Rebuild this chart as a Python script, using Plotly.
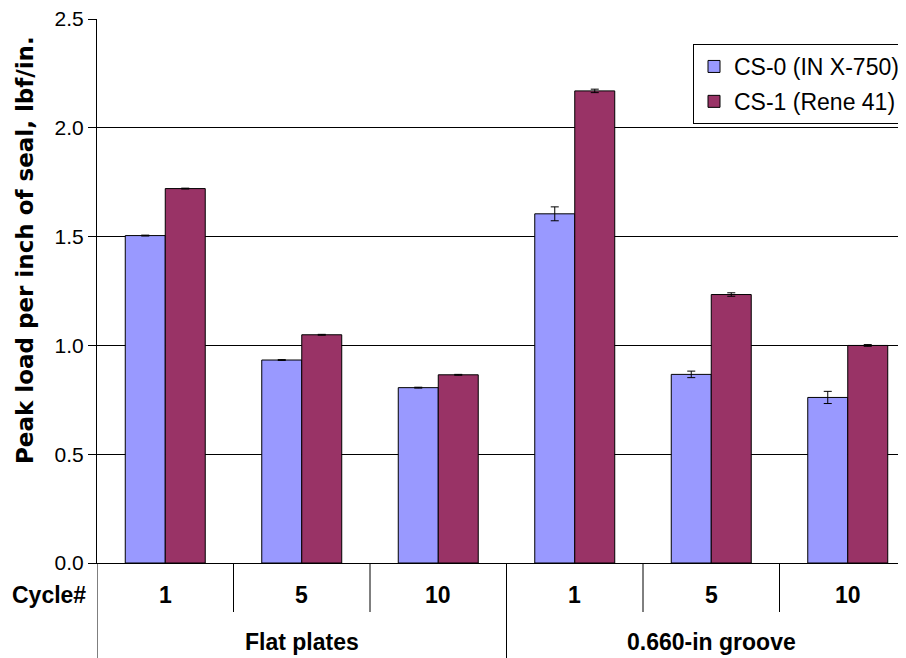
import plotly.graph_objects as go

groups = ["Flat plates", "0.660-in groove"]
cycles = ["1", "5", "10", "1", "5", "10"]
series_names = ["CS-0 (IN X-750)", "CS-1 (Rene 41)"]
cs0_values = [1.505, 0.933, 0.806, 1.605, 0.867, 0.761]
cs0_errors = [0.002, 0.002, 0.002, 0.032, 0.015, 0.028]
cs1_values = [1.721, 1.049, 0.865, 2.170, 1.234, 1.000]
cs1_errors = [0.002, 0.002, 0.002, 0.008, 0.008, 0.004]
y_ticks = [0.0, 0.5, 1.0, 1.5, 2.0, 2.5]

FONT = "Liberation Sans, Arial, sans-serif"
TITLE_FONT = "DejaVu Sans, Liberation Sans, sans-serif"
# page offset of the figure inside the browser body (default 8px margin)
OFF = 8
W, H = 906 - OFF, 658 - OFF
PL, PT, PB = 97, 19, 563          # plot edges in page pixels
L, T = PL - OFF, PT - OFF
B = H - (PB - OFF)
plot_h = PB - PT
plot_w = 906 - PL

cat_px = 136.5
x_right = -0.5 + plot_w / cat_px
xpos = list(range(len(cycles)))


def py(pix):
    """page pixel y -> paper y"""
    return (PB - pix) / plot_h


def px(pix):
    """page pixel x -> paper x"""
    return (pix - PL) / plot_w


fig = go.Figure()
fig.add_trace(go.Bar(
    x=xpos, y=cs0_values, name=series_names[0], legendgroup="a",
    marker=dict(color="#9999FF", line=dict(color="#000000", width=1)),
    error_y=dict(type="data", array=cs0_errors, color="#000000", thickness=1, width=4),
))
fig.add_trace(go.Bar(
    x=xpos, y=cs1_values, name=series_names[1], legendgroup="b",
    marker=dict(color="#993366", line=dict(color="#000000", width=1)),
    error_y=dict(type="data", array=cs1_errors, color="#000000", thickness=1, width=4),
))

shapes = []
annotations = []
n_per = len(cycles) // len(groups)
# inner dividers between cycles (first label row only)
for i in range(len(cycles)):
    b = i + 0.5
    if (i + 1) % n_per == 0:
        continue
    shapes.append(dict(type="line", xref="x", yref="paper", x0=b, x1=b,
                       y0=0, y1=py(612), line=dict(color="#000000", width=1)))
# group dividers (full depth)
for g in range(len(groups) + 1):
    b = -0.5 + g * n_per
    if b > x_right:
        continue
    shapes.append(dict(type="line", xref="x", yref="paper", x0=b, x1=b,
                       y0=0, y1=py(660), line=dict(color="#000000", width=1)))

for i, c in enumerate(cycles):
    annotations.append(dict(x=i, y=py(595), xref="x", yref="paper", text="<b>%s</b>" % c,
                            showarrow=False, font=dict(family=FONT, size=23, color="#000"),
                            xanchor="center", yanchor="middle"))
for g, name in enumerate(groups):
    annotations.append(dict(x=g * n_per + (n_per - 1) / 2, y=py(642), xref="x", yref="paper",
                            text="<b>%s</b>" % name, showarrow=False,
                            font=dict(family=FONT, size=23, color="#000"),
                            xanchor="center", yanchor="middle"))
annotations.append(dict(x=px(88), y=py(595), xref="paper", yref="paper",
                        text="<b>Cycle#</b>", showarrow=False,
                        font=dict(family=FONT, size=23, color="#000"),
                        xanchor="right", yanchor="middle"))
annotations.append(dict(x=px(25), y=py(250), xref="paper", yref="paper",
                        text="<b>Peak load per inch of seal, lbf/in.</b>", showarrow=False,
                        textangle=-90, font=dict(family=TITLE_FONT, size=23, color="#000"),
                        xanchor="center", yanchor="middle"))

fig.update_layout(
    width=W, height=H,
    margin=dict(l=L, r=0, t=T, b=B, pad=0),
    paper_bgcolor="#FFFFFF", plot_bgcolor="#FFFFFF",
    barmode="group", bargap=0.414, bargroupgap=0,
    font=dict(family=FONT, size=21, color="#000000"),
    showlegend=True,
    legend=dict(x=px(905), y=py(44), xanchor="right", yanchor="top",
                bgcolor="#FFFFFF", bordercolor="#000000", borderwidth=1,
                font=dict(family=FONT, size=23, color="#000000"),
                tracegroupgap=2, traceorder="grouped"),
    xaxis=dict(range=[-0.5, x_right], showticklabels=False, showgrid=False,
               zeroline=False, showline=True, linecolor="#000000", linewidth=1,
               ticks=""),
    yaxis=dict(range=[0, 2.5005], tickvals=y_ticks, ticktext=["%.1f" % v for v in y_ticks],
               showgrid=True, gridcolor="#000000", gridwidth=1,
               zeroline=False, showline=True, linecolor="#000000", linewidth=1,
               ticks="outside", ticklen=8, tickcolor="#000000",
               ticklabeloverflow="allow",
               tickfont=dict(family=FONT, size=21, color="#000000")),
    shapes=shapes, annotations=annotations,
)

fig.write_html("out.html")
